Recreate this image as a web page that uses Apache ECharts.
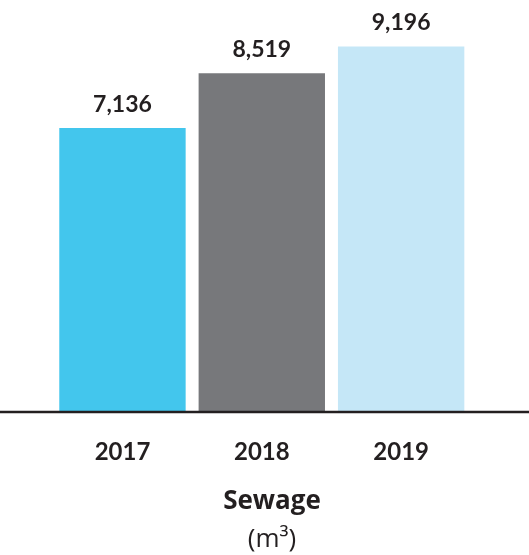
<!DOCTYPE html>
<html>
<head>
<meta charset="utf-8">
<script src="https://cdn.jsdelivr.net/npm/echarts@6/dist/echarts.min.js"></script>
<style>
html,body{margin:0;padding:0;background:#fff;}
#chart{width:529px;height:555px;}
</style>
</head>
<body>
<div id="chart"></div>
<script>
// Data
var years = ['2017', '2018', '2019'];
var sewage = [7136, 8519, 9196];
var titleText = 'Sewage';
var unitText = '(m³)';

// Styles
var barColors = ['#43c6ed', '#77787b', '#c5e7f7'];
var textColor = '#231f20';

var chart = echarts.init(document.getElementById('chart'));
chart.setOption({
  animation: false,
  backgroundColor: '#fff',
  title: {
    text: titleText,
    subtext: unitText,
    left: 267,
    textAlign: 'center',
    top: 484,
    itemGap: 12,
    textStyle: { fontFamily: 'Open Sans', fontWeight: 'bold', fontSize: 26, color: textColor },
    subtextStyle: { fontFamily: 'Open Sans', fontWeight: 'normal', fontSize: 26, color: textColor }
  },
  grid: { left: 52.8, width: 418, top: 14.5, height: 396.5 },
  xAxis: {
    type: 'category',
    data: years,
    axisLine: { show: false },
    axisTick: { show: false },
    axisLabel: { margin: 29, fontFamily: 'Lato', fontWeight: 'bold', fontSize: 24, color: textColor }
  },
  yAxis: {
    type: 'value',
    min: 0,
    max: 10000,
    show: false,
    splitLine: { show: false }
  },
  series: [{
    type: 'bar',
    barCategoryGap: '9.3%',
    data: sewage.map(function (v, i) {
      return { value: v, itemStyle: { color: barColors[i] } };
    }),
    label: {
      show: true,
      position: 'top',
      distance: 12,
      fontFamily: 'Lato',
      fontWeight: 'bold',
      fontSize: 23,
      color: textColor,
      formatter: function (p) { return p.value.toLocaleString('en-US'); }
    }
  }],
  graphic: [{
    type: 'line',
    shape: { x1: 0, y1: 412, x2: 529, y2: 412 },
    style: { stroke: '#231f20', lineWidth: 2.5 },
    z: 10
  }]
});
</script>
</body>
</html>
